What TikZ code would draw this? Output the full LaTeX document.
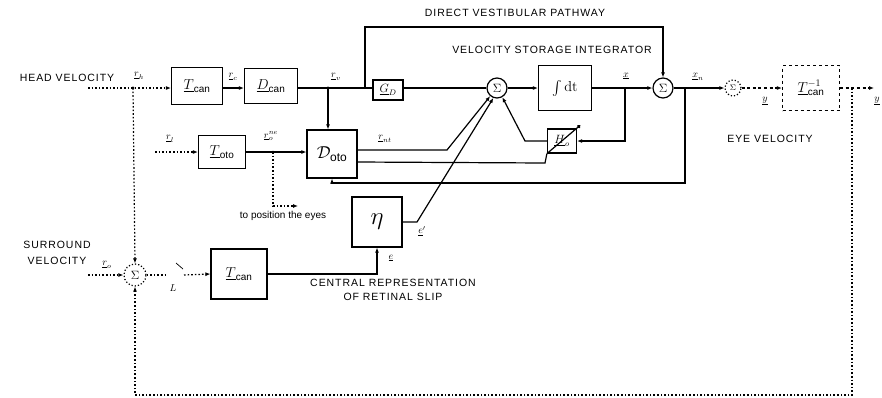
\documentclass[tikz,border=0pt]{standalone}
\usepackage{fontspec}
\setsansfont{Liberation Sans}
\newfontfamily\capfont[LetterSpace=9]{Liberation Sans}
\usepackage{amsmath}
\usetikzlibrary{arrows.meta,positioning,calc}

\begin{document}
\begin{tikzpicture}[x=1pt, y=-1pt,
  blk/.style={draw, line width=1.2pt, inner sep=0pt, font=\Large},
  sumc/.style={draw, circle, line width=1.2pt, minimum size=20pt, inner sep=0pt, font=\large},
  wire/.style={line width=1.2pt},
  dotsig/.style={line width=1.2pt, dash pattern=on 1.6pt off 2pt},
  dashsig/.style={line width=1.2pt, dash pattern=on 3pt off 2.6pt},
  arr/.style={-{Latex[length=5pt,width=4pt]}},
  captext/.style={font=\capfont\fontsize{10.5}{12}\selectfont, inner sep=0pt},
  varlbl/.style={font=\normalsize, inner sep=0pt}
]
\useasboundingbox (0,0) rectangle (882,397);

% blocks of the forward path
\node[blk, minimum width=51pt, minimum height=37pt] (tcan) at (197,86) {$\underline{T}_{\textsf{can}}$};
\node[blk, minimum width=53pt, minimum height=35pt] (dcan) at (271,86) {$\underline{D}_{\textsf{can}}$};
\node[blk, minimum width=30pt, minimum height=20pt, font=\large] (gd) at (388,90) {$\underline{G}_{D}$};
\node[sumc] (sumone) at (497,88) {$\Sigma$};
\node[blk, minimum width=53pt, minimum height=45pt] (integ) at (565,88) {$\int \mathrm{dt}$};
\node[sumc] (sumtwo) at (663,88) {$\Sigma$};
\node[sumc, dotted, minimum size=16pt, font=\footnotesize] (eyesum) at (733,88) {$\Sigma$};
\node[blk, dashed, minimum width=57pt, minimum height=45pt] (tcaninv) at (811,88) {$\underline{T}^{-1}_{\textsf{can}}$};

% otolith and retinal slip blocks
\node[blk, minimum width=47pt, minimum height=33pt] (toto) at (222,152) {$\underline{T}_{\textsf{oto}}$};
\node[blk, minimum width=50pt, minimum height=48pt, font=\LARGE] (doto) at (332,154) {$\mathcal{D}_{\textsf{\large oto}}$};
\node[blk, minimum width=29pt, minimum height=24pt, font=\large] (hbox) at (562,141) {$\underline{H}_{o}$};
\node[blk, minimum width=50pt, minimum height=50pt, font=\Huge] (eta) at (377,222) {$\eta$};
\node[blk, minimum width=56pt, minimum height=50pt] (tsur) at (239,274) {$\underline{T}_{\textsf{can}}$};
\node[sumc, dotted, minimum size=22pt] (sursum) at (135,275) {$\Sigma$};

% branch points
\coordinate (hin) at (88,88);
\coordinate (hb) at (133,88);
\coordinate (rv) at (328,88);
\coordinate (dp) at (365,88);
\coordinate (xb) at (625,88);
\coordinate (xnb) at (685,88);
\coordinate (yb) at (852,88);
\coordinate (yout) at (874,88);
\coordinate (lin) at (155,152);
\coordinate (neb) at (273,152);
\coordinate (posend) at (298,206);
\coordinate (sin) at (88,275);
\coordinate (swa) at (168,275);
\coordinate (swb) at (184,275);

% head velocity input
\draw[dotsig, arr] (hin) -- (tcan.west |- 0,88);
\draw[dotsig, arr] (hb) -- (sursum.north);
\fill (hb) circle (1.6pt);
\draw[wire, arr] (tcan.east |- 0,88) -- (dcan.west |- 0,88);
\draw[wire] (dcan.east |- 0,88) -- (gd.west |- 0,88);
\draw[wire, arr] (rv) -- (doto.north -| rv);
\fill (rv) circle (1.6pt);
\draw[wire, arr] (dp) -- (365,27) -| (sumtwo.north);
\draw[wire] (gd.east |- 0,88) -- (sumone.west);
\draw[wire, arr] (sumone.east) -- (integ.west);
\draw[wire, arr] (integ.east) -- (sumtwo.west);
\draw[wire, arr] (xb) |- (hbox.east);
\draw[wire, arr] (hbox.west) -- (525,141) -- (sumone.300);
\draw[wire, arr] (sumtwo.east) -- (eyesum.west);
\draw[wire, arr] (xnb) -- (685,183) -| (doto.south);
\draw[dashsig, arr] (eyesum.east) -- (tcaninv.west);
\draw[dashsig, arr] (tcaninv.east) -- (yout);
\draw[dotsig, arr] (yb) -- (852,395) -| (sursum.south);

% otolith input
\draw[dotsig, arr] (lin) -- (toto.west);
\draw[wire, arr] (toto.east) -- (doto.west |- toto.east);
\draw[dotsig, arr] (neb) |- (posend);
\fill (neb) circle (1.4pt);
\draw[wire, arr] ([yshift=4pt]doto.east) -- (447,150) -- (sumone.230);
\draw[wire] ([yshift=-8pt]doto.east) -- (545,163) -- (hbox.south west);
\draw[wire, -{Circle[length=3.5pt]}] (hbox.south west) -- ([xshift=3pt,yshift=3pt]hbox.north east);

% surround input and retinal slip
\draw[dotsig, arr] (sin) -- (sursum.west);
\draw[dotsig] (sursum.east) -- (swa);
\draw[line width=0.7pt] (176,263) -- (183,269);
\draw[dotsig, arr] (swb) -- (tsur.west);
\draw[wire, arr] (tsur.east) -| (eta.south);
\draw[wire, arr] (eta.east) -- (417,222) -- (sumone.250);

% texts
\node[captext] at (67,78) {HEAD VELOCITY};
\node[captext] at (57,245) {SURROUND};
\node[captext] at (57,261) {VELOCITY};
\node[captext] at (515,13) {DIRECT VESTIBULAR PATHWAY};
\node[captext] at (552,50) {VELOCITY STORAGE INTEGRATOR};
\node[captext] at (770,139) {EYE VELOCITY};
\node[captext] at (393,283) {CENTRAL REPRESENTATION};
\node[captext] at (393,297) {OF RETINAL SLIP};
\node[font=\sffamily\normalsize, inner sep=0pt] at (283,216) {to position the eyes};

% signal names
\node[varlbl] at (139,76) {$\underline{r}_h$};
\node[varlbl] at (233,77) {$\underline{r}_c$};
\node[varlbl] at (336,77) {$\underline{r}_v$};
\node[varlbl] at (626,76) {$\underline{x}$};
\node[varlbl] at (698,77) {$\underline{x}_n$};
\node[varlbl] at (765,101) {$\underline{y}$};
\node[varlbl] at (877,101) {$\underline{y}$};
\node[varlbl] at (170,139) {$\underline{r}_l$};
\node[varlbl] at (271,136) {$\underline{r}_o^{ne}$};
\node[varlbl] at (385,139) {$\underline{r}_{nt}$};
\node[varlbl] at (422,231) {$\underline{e}'$};
\node[varlbl] at (391,258) {$\underline{e}$};
\node[varlbl] at (173,288) {$L$};
\node[varlbl] at (107,265) {$\underline{r}_o$};
\end{tikzpicture}
\end{document}
